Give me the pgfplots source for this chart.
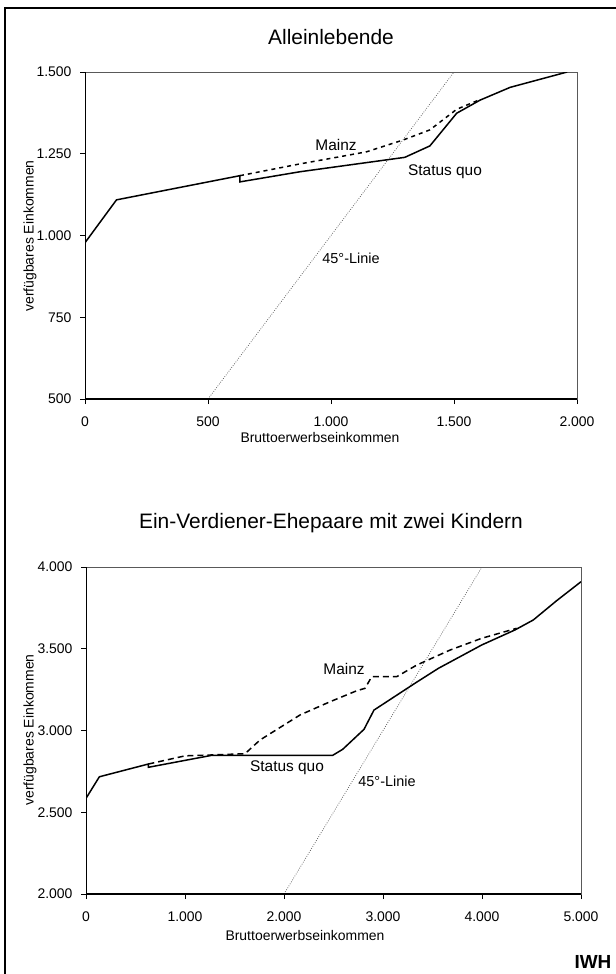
\documentclass[border=0pt]{standalone}
\usepackage{fontspec}
\setmainfont{Liberation Sans}
\usepackage{pgfplots}
\pgfplotsset{compat=1.18}
\begin{document}
\begin{tikzpicture}
\pgfplotsset{
  myax/.style={
    scale only axis,
    anchor=south west,
    axis line style={draw=gray!70!black, line width=0.8bp},
    tick pos=left, tick align=outside,
    major tick length=5bp,
    tick style={black, line width=0.8bp},
    scaled ticks=false,
    /pgf/number format/use comma,
    /pgf/number format/1000 sep={.},
    /pgf/number format/assume math mode=true,
    ticklabel style={font=\fontsize{14}{16}\selectfont},
    xticklabel style={yshift=-9bp},
    yticklabel style={xshift=-5bp},
  },
  sq/.style={black, line width=1.5bp},
  mz/.style={black, line width=1.5bp},
  deg/.style={gray!70!black, line width=0.7bp, dash pattern=on 0.8bp off 1.5bp},
}
\path[use as bounding box] (0,0) rectangle (616bp,-974bp);
\draw[line width=2.5bp] (5bp,-980bp) -- (5bp,-8bp) -- (620bp,-8bp);

% ---------- top chart ----------
\begin{axis}[myax, at={(85bp,-399bp)}, width=492bp, height=327bp,
  xmin=0, xmax=2000, ymin=500, ymax=1500,
  xtick={0,500,...,2000}, ytick={500,750,...,1500}]
\addplot[deg] coordinates {(500,500) (1500,1500)};
\addplot[mz, dash pattern=on 4bp off 4bp] coordinates {
 (630,1183) (874,1219) (1000,1236) (1145,1256) (1293,1292) (1402,1323) (1511,1386) (1600,1414)};
\addplot[sq] coordinates {
 (0,978) (128,1109) (630,1183) (630,1164) (874,1195) (1300,1239) (1402,1274)
 (1511,1374) (1606,1414) (1728,1453) (1960,1500)};
\draw[black, line width=1.6bp] (rel axis cs:0,1) -- (rel axis cs:0,0) -- (rel axis cs:1,0);
\end{axis}

\node[font=\fontsize{21}{24}\selectfont] at (331bp,-37bp) {Alleinlebende};
\node[font=\fontsize{14}{16}\selectfont] at (320bp,-438bp) {Bruttoerwerbseinkommen};
\node[font=\fontsize{14}{16}\selectfont, rotate=90] at (30bp,-236bp) {verfügbares Einkommen};
\node[font=\fontsize{15.5}{18}\selectfont] at (336bp,-145bp) {Mainz};
\node[font=\fontsize{15.5}{18}\selectfont] at (445bp,-172bp) {Status quo};
\node[font=\fontsize{14.5}{16}\selectfont] at (351bp,-258bp) {45°-Linie};

% ---------- bottom chart ----------
\begin{axis}[myax, at={(86bp,-894bp)}, width=495bp, height=327bp,
  xmin=0, xmax=5000, ymin=2000, ymax=4000,
  xtick={0,1000,...,5000}, ytick={2000,2500,...,4000}]
\addplot[deg] coordinates {(2000,2000) (4000,4000)};
\addplot[mz, dash pattern=on 6bp off 4bp] coordinates {
 (630,2795) (1000,2845) (1250,2850) (1606,2858) (1758,2942) (2027,3044) (2162,3095)
 (2465,3176) (2734,3243) (2818,3258) (2886,3329) (3138,3329) (3340,3400) (3677,3492)
 (3997,3564) (4350,3625)};
\addplot[sq] coordinates {
 (0,2585) (135,2717) (630,2795) (630,2775) (1269,2848) (2491,2848) (2593,2885)
 (2808,3007) (2909,3125) (3323,3289) (3559,3380) (3997,3523) (4333,3615) (4518,3676)
 (4754,3794) (5000,3910)};
\draw[black, line width=1.6bp] (rel axis cs:0,1) -- (rel axis cs:0,0) -- (rel axis cs:1,0);
\end{axis}

\node[font=\fontsize{21}{24}\selectfont] at (331bp,-523bp) {Ein-Verdiener-Ehepaare mit zwei Kindern};
\node[font=\fontsize{14}{16}\selectfont] at (305bp,-936bp) {Bruttoerwerbseinkommen};
\node[font=\fontsize{14}{16}\selectfont, rotate=90] at (30bp,-730bp) {verfügbares Einkommen};
\node[font=\fontsize{15.5}{18}\selectfont] at (344bp,-669bp) {Mainz};
\node[font=\fontsize{15.5}{18}\selectfont] at (287bp,-768bp) {Status quo};
\node[font=\fontsize{14.5}{16}\selectfont] at (387bp,-781bp) {45°-Linie};
\node[font=\fontsize{19}{22}\selectfont\bfseries] at (593bp,-962bp) {IWH};
\end{tikzpicture}
\end{document}
